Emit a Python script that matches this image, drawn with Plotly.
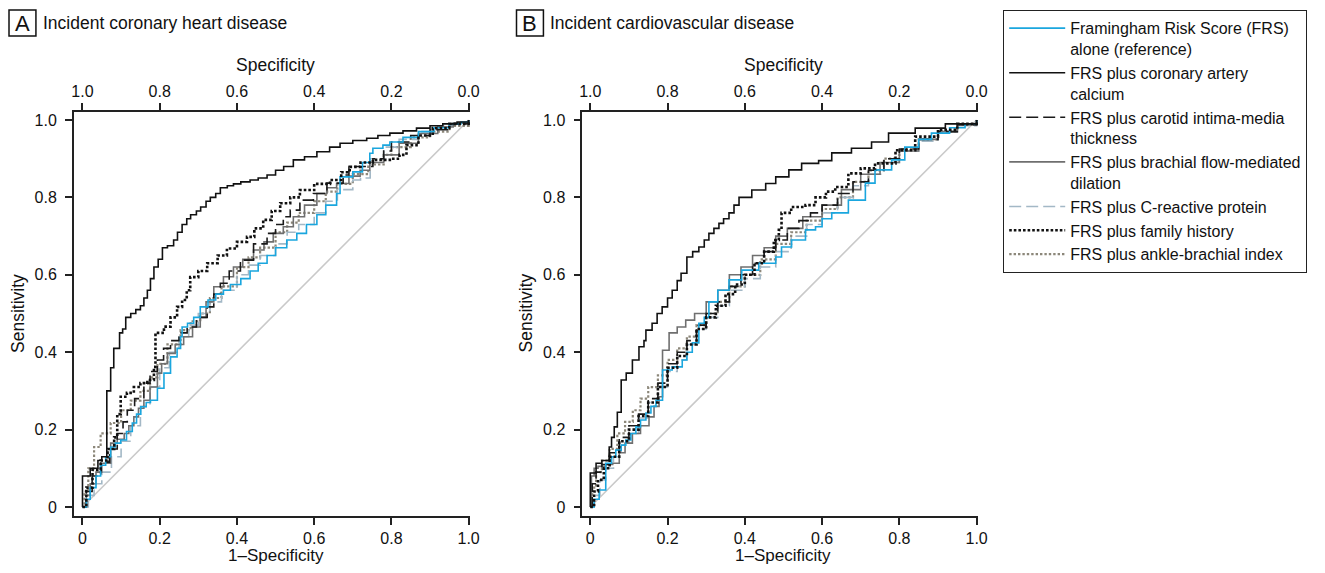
import plotly.graph_objects as go

# ---------------- data ----------------
LEGEND_NAMES = [
    "Framingham Risk Score (FRS)<br>alone (reference)",
    "FRS plus coronary artery<br>calcium",
    "FRS plus carotid intima-media<br>thickness",
    "FRS plus brachial flow-mediated<br>dilation",
    "FRS plus C-reactive protein",
    "FRS plus family history",
    "FRS plus ankle-brachial index",
]
PANEL_TITLES = ["Incident coronary heart disease", "Incident cardiovascular disease"]
PANEL_LETTERS = ["A", "B"]
TICK_VALS = [0, 0.2, 0.4, 0.6, 0.8, 1.0]
TICK_TEXT = ["0", "0.2", "0.4", "0.6", "0.8", "1.0"]
SPEC_TEXT = ["1.0", "0.8", "0.6", "0.4", "0.2", "0.0"]

# Panel A: (1-specificity, sensitivity)
A_FRS = [(0,0),(0.01,0.02),(0.02,0.05),(0.035,0.08),(0.047,0.108),(0.06,0.13),(0.073,0.155),(0.085,0.165),
         (0.099,0.173),(0.114,0.195),(0.129,0.217),(0.14,0.24),(0.151,0.259),(0.165,0.27),(0.176,0.276),
         (0.194,0.307),(0.211,0.346),(0.228,0.388),(0.245,0.41),(0.254,0.44),(0.258,0.465),(0.272,0.475),
         (0.288,0.49),(0.305,0.517),(0.325,0.535),(0.345,0.55),(0.365,0.56),(0.383,0.575),(0.41,0.59),
         (0.434,0.61),(0.455,0.63),(0.478,0.65),(0.50,0.67),(0.529,0.69),(0.555,0.707),(0.58,0.73),
         (0.607,0.755),(0.63,0.78),(0.658,0.81),(0.667,0.853),(0.70,0.866),(0.725,0.89),(0.744,0.914),
         (0.752,0.927),(0.778,0.935),(0.796,0.943),(0.83,0.955),(0.87,0.97),(0.91,0.98),(0.95,0.99),
         (0.98,0.995),(1,1)]
A_CAC = [(0,0),(0.0,0.08),(0.02,0.10),(0.04,0.12),(0.05,0.13),(0.063,0.30),(0.073,0.36),(0.081,0.41),
         (0.096,0.45),(0.104,0.46),(0.112,0.49),(0.125,0.50),(0.138,0.51),(0.15,0.52),(0.159,0.54),
         (0.168,0.56),(0.176,0.59),(0.185,0.62),(0.196,0.64),(0.207,0.67),(0.22,0.675),(0.236,0.69),
         (0.246,0.71),(0.258,0.73),(0.27,0.745),(0.28,0.755),(0.295,0.765),(0.306,0.775),(0.32,0.79),
         (0.331,0.80),(0.345,0.81),(0.357,0.825),(0.375,0.83),(0.391,0.835),(0.41,0.84),(0.434,0.845),
         (0.455,0.85),(0.478,0.858),(0.50,0.87),(0.521,0.88),(0.546,0.897),(0.575,0.905),(0.607,0.918),
         (0.64,0.93),(0.667,0.94),(0.70,0.947),(0.736,0.953),(0.765,0.96),(0.796,0.966),(0.83,0.972),
         (0.865,0.979),(0.90,0.985),(0.933,0.99),(0.97,0.995),(1,1)]
A_IMT = [(0,0),(0.01,0.04),(0.025,0.08),(0.047,0.116),(0.07,0.15),(0.09,0.19),(0.105,0.22),(0.116,0.25),
         (0.135,0.28),(0.159,0.32),(0.175,0.35),(0.194,0.38),(0.21,0.41),(0.228,0.43),(0.25,0.45),
         (0.271,0.465),(0.295,0.49),(0.323,0.517),(0.34,0.55),(0.357,0.578),(0.38,0.61),(0.409,0.638),
         (0.443,0.68),(0.478,0.707),(0.50,0.73),(0.52,0.75),(0.538,0.767),(0.563,0.793),(0.598,0.81),
         (0.633,0.837),(0.675,0.858),(0.69,0.88),(0.752,0.90),(0.78,0.92),(0.80,0.943),(0.85,0.96),
         (0.90,0.975),(0.95,0.99),(1,1)]
A_FMD = [(0,0),(0.01,0.03),(0.02,0.06),(0.035,0.09),(0.05,0.113),(0.073,0.165),(0.09,0.175),(0.108,0.19),
         (0.12,0.21),(0.133,0.233),(0.145,0.255),(0.159,0.276),(0.175,0.31),(0.194,0.346),(0.205,0.37),
         (0.22,0.397),(0.24,0.42),(0.262,0.44),(0.285,0.465),(0.305,0.49),(0.32,0.53),(0.34,0.569),
         (0.365,0.595),(0.391,0.62),(0.415,0.64),(0.443,0.664),(0.47,0.685),(0.494,0.707),(0.52,0.724),
         (0.546,0.75),(0.575,0.78),(0.607,0.81),(0.633,0.825),(0.658,0.836),(0.69,0.855),(0.719,0.87),
         (0.744,0.89),(0.78,0.91),(0.82,0.94),(0.87,0.965),(0.92,0.982),(0.96,0.992),(1,1)]
A_CRP = [(0,0),(0.015,0.03),(0.03,0.06),(0.05,0.09),(0.075,0.13),(0.10,0.17),(0.125,0.21),(0.15,0.26),
         (0.175,0.31),(0.20,0.36),(0.225,0.40),(0.25,0.44),(0.275,0.47),(0.30,0.50),(0.33,0.53),(0.36,0.56),
         (0.40,0.60),(0.43,0.625),(0.46,0.65),(0.50,0.68),(0.53,0.71),(0.56,0.73),(0.60,0.76),(0.63,0.79),
         (0.66,0.82),(0.70,0.845),(0.72,0.85),(0.745,0.90),(0.78,0.93),(0.82,0.95),(0.87,0.97),
         (0.92,0.985),(0.96,0.993),(1,1)]
A_FAM = [(0,0),(0.01,0.05),(0.026,0.096),(0.047,0.12),(0.065,0.15),(0.082,0.18),(0.09,0.24),(0.099,0.285),
         (0.115,0.295),(0.133,0.31),(0.15,0.32),(0.168,0.328),(0.185,0.362),(0.189,0.45),(0.211,0.466),
         (0.228,0.49),(0.245,0.517),(0.258,0.535),(0.27,0.56),(0.279,0.594),(0.30,0.61),(0.323,0.63),
         (0.35,0.65),(0.374,0.668),(0.40,0.685),(0.426,0.698),(0.445,0.72),(0.468,0.742),(0.49,0.765),
         (0.512,0.785),(0.538,0.80),(0.563,0.819),(0.60,0.835),(0.641,0.845),(0.67,0.865),(0.692,0.879),
         (0.72,0.89),(0.752,0.897),(0.80,0.90),(0.821,0.91),(0.839,0.935),(0.87,0.96),(0.907,0.979),
         (0.95,0.99),(1,1)]
A_ABI = [(0,0),(0.005,0.04),(0.015,0.10),(0.03,0.155),(0.047,0.19),(0.073,0.217),(0.10,0.25),(0.125,0.275),
         (0.15,0.30),(0.175,0.335),(0.194,0.37),(0.22,0.42),(0.254,0.457),(0.28,0.48),(0.305,0.50),
         (0.33,0.54),(0.36,0.57),(0.40,0.62),(0.43,0.645),(0.46,0.67),(0.50,0.71),(0.53,0.735),(0.56,0.76),
         (0.60,0.79),(0.63,0.815),(0.66,0.835),(0.70,0.86),(0.74,0.885),(0.78,0.91),(0.80,0.93),
         (0.85,0.955),(0.90,0.97),(0.95,0.985),(1,1)]

# Panel B
B_FRS = [(0,0),(0.01,0.02),(0.023,0.044),(0.04,0.113),(0.055,0.13),(0.066,0.147),(0.08,0.16),(0.092,0.173),
         (0.105,0.19),(0.118,0.207),(0.13,0.225),(0.144,0.243),(0.157,0.26),(0.17,0.276),(0.187,0.354),
         (0.212,0.362),(0.238,0.38),(0.25,0.40),(0.264,0.424),(0.281,0.475),(0.295,0.49),(0.307,0.53),
         (0.33,0.56),(0.359,0.587),(0.392,0.612),(0.436,0.63),(0.48,0.646),(0.495,0.672),(0.521,0.69),
         (0.557,0.716),(0.583,0.724),(0.60,0.745),(0.625,0.76),(0.668,0.793),(0.712,0.837),(0.737,0.871),
         (0.78,0.897),(0.814,0.93),(0.85,0.95),(0.883,0.966),(0.93,0.98),(0.97,0.99),(1,1)]
B_CAC = [(0,0),(0,0.088),(0.015,0.113),(0.03,0.12),(0.049,0.155),(0.055,0.18),(0.062,0.207),(0.07,0.245),
         (0.08,0.328),(0.093,0.346),(0.109,0.38),(0.126,0.414),(0.139,0.43),(0.144,0.457),(0.16,0.475),
         (0.173,0.50),(0.186,0.517),(0.20,0.54),(0.212,0.56),(0.225,0.585),(0.235,0.604),(0.25,0.646),
         (0.265,0.66),(0.281,0.672),(0.295,0.69),(0.307,0.707),(0.32,0.72),(0.333,0.733),(0.345,0.745),
         (0.359,0.76),(0.372,0.78),(0.385,0.80),(0.418,0.819),(0.454,0.836),(0.48,0.853),(0.514,0.871),
         (0.547,0.888),(0.591,0.895),(0.625,0.915),(0.676,0.927),(0.728,0.943),(0.772,0.966),
         (0.841,0.979),(0.919,0.99),(1,1)]
B_IMT = [(0,0),(0.005,0.06),(0.015,0.09),(0.03,0.11),(0.05,0.14),(0.075,0.18),(0.10,0.21),(0.125,0.24),
         (0.15,0.28),(0.175,0.32),(0.20,0.37),(0.225,0.40),(0.25,0.43),(0.275,0.47),(0.30,0.50),(0.33,0.53),
         (0.36,0.57),(0.39,0.60),(0.42,0.63),(0.45,0.66),(0.48,0.69),(0.51,0.72),(0.54,0.74),(0.57,0.76),
         (0.60,0.78),(0.64,0.81),(0.68,0.84),(0.72,0.87),(0.76,0.90),(0.80,0.925),(0.85,0.95),(0.90,0.97),
         (0.95,0.988),(1,1)]
B_FMD = [(0,0),(0.003,0.08),(0.01,0.10),(0.02,0.105),(0.04,0.11),(0.058,0.113),(0.075,0.14),(0.09,0.165),
         (0.109,0.19),(0.13,0.21),(0.152,0.233),(0.165,0.26),(0.178,0.285),(0.187,0.405),(0.204,0.45),
         (0.225,0.465),(0.247,0.483),(0.27,0.50),(0.30,0.53),(0.33,0.56),(0.36,0.60),(0.39,0.62),
         (0.42,0.65),(0.45,0.67),(0.48,0.70),(0.51,0.72),(0.55,0.75),(0.60,0.78),(0.65,0.82),(0.70,0.86),
         (0.75,0.89),(0.80,0.92),(0.85,0.95),(0.90,0.97),(0.95,0.988),(1,1)]
B_CRP = [(0,0),(0.01,0.03),(0.025,0.07),(0.04,0.10),(0.06,0.13),(0.08,0.16),(0.10,0.19),(0.125,0.23),
         (0.15,0.27),(0.175,0.31),(0.20,0.35),(0.225,0.38),(0.25,0.42),(0.275,0.46),(0.30,0.49),(0.33,0.52),
         (0.36,0.56),(0.40,0.59),(0.44,0.62),(0.48,0.66),(0.52,0.70),(0.56,0.73),(0.60,0.76),(0.64,0.80),
         (0.68,0.83),(0.72,0.86),(0.76,0.89),(0.80,0.92),(0.85,0.945),(0.90,0.97),(0.95,0.985),(1,1)]
B_FAM = [(0,0),(0.01,0.04),(0.02,0.07),(0.035,0.10),(0.05,0.13),(0.075,0.17),(0.10,0.20),(0.125,0.235),
         (0.15,0.27),(0.175,0.31),(0.20,0.36),(0.225,0.39),(0.25,0.42),(0.275,0.46),(0.30,0.49),
         (0.325,0.52),(0.35,0.55),(0.375,0.575),(0.40,0.60),(0.425,0.63),(0.45,0.66),(0.475,0.69),
         (0.488,0.716),(0.495,0.76),(0.52,0.775),(0.557,0.78),(0.583,0.80),(0.61,0.815),(0.634,0.827),
         (0.668,0.862),(0.70,0.875),(0.737,0.888),(0.79,0.922),(0.841,0.957),(0.90,0.975),(0.95,0.99),(1,1)]
B_ABI = [(0,0),(0.005,0.05),(0.015,0.09),(0.03,0.12),(0.05,0.15),(0.07,0.19),(0.09,0.22),(0.11,0.25),
         (0.13,0.28),(0.15,0.31),(0.175,0.34),(0.20,0.38),(0.225,0.41),(0.25,0.44),(0.275,0.47),(0.30,0.50),
         (0.33,0.53),(0.36,0.57),(0.40,0.60),(0.44,0.64),(0.48,0.68),(0.52,0.71),(0.56,0.74),(0.60,0.77),
         (0.64,0.80),(0.68,0.84),(0.72,0.87),(0.76,0.90),(0.80,0.925),(0.85,0.95),(0.90,0.97),
         (0.95,0.988),(1,1)]

PANEL_A = [A_FRS, A_CAC, A_IMT, A_FMD, A_CRP, A_FAM, A_ABI]
PANEL_B = [B_FRS, B_CAC, B_IMT, B_FMD, B_CRP, B_FAM, B_ABI]

# ---------------- styles ----------------
STYLES = [
    dict(color="#1aa6de", width=1.6, dash="solid"),
    dict(color="#111111", width=1.6, dash="solid"),
    dict(color="#1a1a1a", width=1.6, dash="12px,5px"),
    dict(color="#6f6f6f", width=1.6, dash="solid"),
    dict(color="#a3b8c6", width=1.6, dash="12px,5px"),
    dict(color="#111111", width=2.6, dash="2.6px,2px"),
    dict(color="#8c877a", width=2.2, dash="2.4px,2px"),
]
DRAW_ORDER = [6, 4, 3, 2, 0, 5, 1]
FONT = "Liberation Sans, Arial, sans-serif"

# The page body has an 8px margin; the figure is sized to fit the 1325x573 window inside it.
OFF = 8
W, H = 1325 - 2 * OFF, 573 - 2 * OFF
X_OFF, X_SCALE = 10, 0.993   # observed horizontal placement of the figure in the photo


def px_x(p):
    return ((p - X_OFF) / X_SCALE) / W


def px_y(p):
    return 1 - (p - OFF) / H


fig = go.Figure()

# panel pixel geometry (reference-picture coordinates)
panels = [
    dict(xa="x", ya="y", xt="x3", data=PANEL_A, left=73, x0=81.7, x1=469),
    dict(xa="x2", ya="y2", xt="x4", data=PANEL_B, left=583, x0=591, x1=978.5),
]
Y_TOP, Y_BOT, Y1PX, Y0PX = 112, 516, 120, 507

for pi, p in enumerate(panels):
    fig.add_trace(go.Scatter(x=[0, 1], y=[0, 1], mode="lines", xaxis=p["xa"], yaxis=p["ya"],
                             line=dict(color="#c9c9c9", width=1.6), showlegend=False, hoverinfo="skip"))
    fig.add_trace(go.Scatter(x=[], y=[], xaxis=p["xt"], yaxis=p["ya"], showlegend=False))

for pi, p in enumerate(panels):
    for k in DRAW_ORDER:
        pts = p["data"][k]
        st = STYLES[k]
        fig.add_trace(go.Scatter(
            x=[a for a, b in pts], y=[b for a, b in pts], mode="lines", line_shape="hv",
            xaxis=p["xa"], yaxis=p["ya"], name=LEGEND_NAMES[k],
            line=dict(color=st["color"], width=st["width"], dash=st["dash"]),
            showlegend=(pi == 0), legendrank=k + 1))

axis_common = dict(showgrid=False, zeroline=False, showline=True, linecolor="#222", linewidth=1.5,
                   ticks="outside", ticklen=7, tickwidth=1.5, tickcolor="#222",
                   tickfont=dict(family=FONT, size=16, color="#111"))

layout = dict(autosize=False, width=W, height=H, margin=dict(l=0, r=0, t=0, b=0),
              paper_bgcolor="white", plot_bgcolor="white",
              font=dict(family=FONT, size=16, color="#111"))

annotations = []
shapes = []
for pi, p in enumerate(panels):
    scale = (p["x1"] - p["x0"])
    xr0 = (p["left"] - p["x0"]) / scale
    xr1 = 1.004
    yscale = (Y0PX - Y1PX)
    yr0 = (Y0PX - Y_BOT) / yscale
    yr1 = (Y0PX - Y_TOP) / yscale
    dom_x = [px_x(p["left"]), px_x(p["x0"] + xr1 * scale)]
    dom_y = [px_y(Y_BOT), px_y(Y_TOP)]
    xn = "xaxis" if pi == 0 else "xaxis2"
    yn = "yaxis" if pi == 0 else "yaxis2"
    tn = "xaxis3" if pi == 0 else "xaxis4"
    layout[xn] = dict(axis_common, domain=dom_x, range=[xr0, xr1], anchor=p["ya"],
                      tickvals=TICK_VALS, ticktext=TICK_TEXT, side="bottom")
    layout[yn] = dict(axis_common, domain=dom_y, range=[yr0, yr1], anchor=p["xa"],
                      tickvals=TICK_VALS, ticktext=TICK_TEXT, ticklabelstandoff=5)
    layout[tn] = dict(axis_common, range=[1 - xr0, 1 - xr1], overlaying=p["xa"], anchor=p["ya"],
                      side="top", tickvals=[1 - v for v in TICK_VALS], ticktext=SPEC_TEXT)
    cx = (p["x0"] + p["x1"]) / 2
    annotations += [
        dict(text="Specificity", x=px_x(cx), y=px_y(65), xref="paper", yref="paper",
             xanchor="center", yanchor="middle", showarrow=False, font=dict(size=17.5)),
        dict(text="1\u2013Specificity", x=px_x(cx), y=px_y(555), xref="paper", yref="paper",
             xanchor="center", yanchor="middle", showarrow=False, font=dict(size=17)),
        dict(text="Sensitivity", x=px_x(p["left"] - 56), y=px_y(313), xref="paper", yref="paper",
             xanchor="center", yanchor="middle", showarrow=False, textangle=-90, font=dict(size=17.5)),
    ]
    bx0 = 8 if pi == 0 else 517
    shapes.append(dict(type="rect", xref="paper", yref="paper", x0=px_x(bx0), x1=px_x(bx0 + 27),
                       y0=px_y(36), y1=px_y(10), line=dict(color="#111", width=1.5)))
    annotations.append(dict(text=PANEL_LETTERS[pi], x=px_x(bx0 + 13.5), y=px_y(23.5), xref="paper",
                            yref="paper", xanchor="center", yanchor="middle", showarrow=False,
                            font=dict(size=22, color="#111")))
    annotations.append(dict(text=PANEL_TITLES[pi], x=px_x(bx0 + 32), y=px_y(23), xref="paper",
                            yref="paper", xanchor="left", yanchor="middle", showarrow=False,
                            font=dict(size=17.5)))

layout["annotations"] = annotations
layout["shapes"] = shapes
layout["legend"] = dict(x=min(px_x(1315), 1.0), y=px_y(10), xanchor="right", yanchor="top",
                        bordercolor="#222", borderwidth=1.2, bgcolor="white",
                        font=dict(family=FONT, size=16, color="#111"), valign="top",
                        tracegroupgap=0, itemwidth=56, traceorder="normal")
fig.update_layout(**layout)
fig.write_html("out.html", config={"responsive": False})
